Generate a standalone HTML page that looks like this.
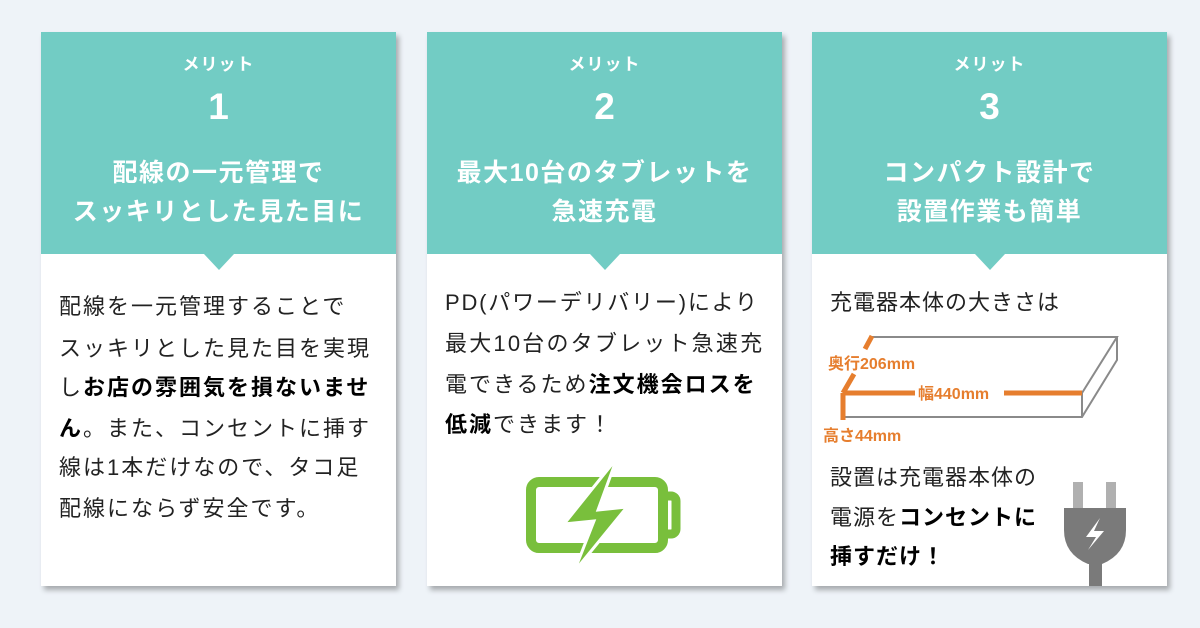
<!DOCTYPE html>
<html><head><meta charset="utf-8"><style>
body{margin:0;width:1200px;height:628px;background:#eef3f8;font-family:"Liberation Sans","Noto Sans CJK JP",sans-serif;position:relative;overflow:hidden}
.card{position:absolute;top:32px;width:355px;height:554px;background:#fff;box-shadow:3px 4px 5px rgba(0,0,0,.3)}
.head{position:absolute;left:0;top:0;width:100%;height:222px;background:#72ccc4;color:#fff;text-align:center;font-weight:bold}
.notch{position:absolute;left:50%;margin-left:-15px;top:222px;width:0;height:0;border-left:15px solid transparent;border-right:15px solid transparent;border-top:16px solid #72ccc4}
.m{position:absolute;left:0;right:0;top:18px;font-size:17px;letter-spacing:1px}
.n{position:absolute;left:0;right:0;top:54px;font-size:37px}
.t{position:absolute;left:0;right:0;top:122px;font-size:25px;line-height:39px;letter-spacing:1.5px}
.b{position:absolute;left:18px;font-size:22px;letter-spacing:2px;color:#222;white-space:nowrap;line-height:30px}
.b b{color:#000}
</style></head><body>

<div class="card" style="left:41px">
 <div class="head"><div class="m">メリット</div><div class="n">1</div><div class="t">配線の一元管理で<br>スッキリとした見た目に</div></div>
 <div class="notch"></div>
 <div class="b" style="top:260px">配線を一元管理することで</div>
 <div class="b" style="top:302px">スッキリとした見た目を実現</div>
 <div class="b" style="top:341px">し<b>お店の雰囲気を損ないませ</b></div>
 <div class="b" style="top:382px"><b>ん</b>。また、コンセントに挿す</div>
 <div class="b" style="top:421px">線は1本だけなので、タコ足</div>
 <div class="b" style="top:462px">配線にならず安全です。</div>
</div>

<div class="card" style="left:427px">
 <div class="head"><div class="m">メリット</div><div class="n">2</div><div class="t">最大10台のタブレットを<br>急速充電</div></div>
 <div class="notch"></div>
 <div class="b" style="top:256px;letter-spacing:1.8px">PD(パワーデリバリー)により</div>
 <div class="b" style="top:297px;letter-spacing:2.2px">最大10台のタブレット急速充</div>
 <div class="b" style="top:338px">電できるため<b>注文機会ロスを</b></div>
 <div class="b" style="top:378px"><b>低減</b>できます！</div>
 <svg style="position:absolute;left:0;top:0" width="355" height="554" viewBox="427 32 355 554">
  <rect x="531" y="482" width="132" height="66" rx="8" fill="none" stroke="#79bf3c" stroke-width="10"/>
  <path d="M666 496 h5 a5 5 0 0 1 5 5 v28 a5 5 0 0 1 -5 5 h-5" fill="none" stroke="#79bf3c" stroke-width="9"/>
  <polygon points="617,458 564,524 594,521 574,572 627,507 598,510" fill="#79bf3c" stroke="#fff" stroke-width="3"/>
 </svg>
</div>

<div class="card" style="left:812px">
 <div class="head"><div class="m">メリット</div><div class="n">3</div><div class="t">コンパクト設計で<br>設置作業も簡単</div></div>
 <div class="notch"></div>
 <div class="b" style="top:256px;letter-spacing:1px">充電器本体の大きさは</div>
 <svg style="position:absolute;left:0;top:0" width="355" height="554" viewBox="812 32 355 554">
  <g fill="none" stroke="#8a8a8a" stroke-width="2">
   <polyline points="872,337 1117,337 1082,393"/>
   <polyline points="1117,337 1117,360 1082,417 843,417"/>
   <line x1="1082" y1="393" x2="1082" y2="417"/>
  </g>
  <g stroke="#e67e2e" stroke-width="5" fill="none">
   <line x1="872" y1="336" x2="865" y2="349"/>
   <line x1="854" y1="374" x2="843" y2="393"/>
   <line x1="843" y1="393" x2="843" y2="420"/>
   <line x1="843" y1="393" x2="915" y2="393"/>
   <line x1="1004" y1="393" x2="1082" y2="393"/>
  </g>
  <g fill="#e67e2e" font-weight="bold" font-size="16" font-family="Liberation Sans,Noto Sans CJK JP,sans-serif">
   <text x="828" y="369">奥行206mm</text>
   <text x="918" y="399">幅440mm</text>
   <text x="823" y="441">高さ44mm</text>
  </g>
  <rect x="1073" y="482" width="10" height="28" fill="#b0b0b0"/>
  <rect x="1106" y="482" width="10" height="28" fill="#b0b0b0"/>
  <path d="M1064 508 h62 v22 q0 24 -24 34 h-14 q-24 -10 -24 -34z" fill="#7a7a7a"/>
  <rect x="1089" y="560" width="13" height="26" fill="#7a7a7a"/>
  <polygon points="1100,518 1086,537 1096,537 1088,550 1104,531 1094,531" fill="#fff"/>
 </svg>
 <div class="b" style="top:431px;letter-spacing:1px">設置は充電器本体の</div>
 <div class="b" style="top:471px;letter-spacing:1px">電源を<b>コンセントに</b></div>
 <div class="b" style="top:510px;letter-spacing:1px"><b>挿すだけ！</b></div>
</div>

</body></html>
